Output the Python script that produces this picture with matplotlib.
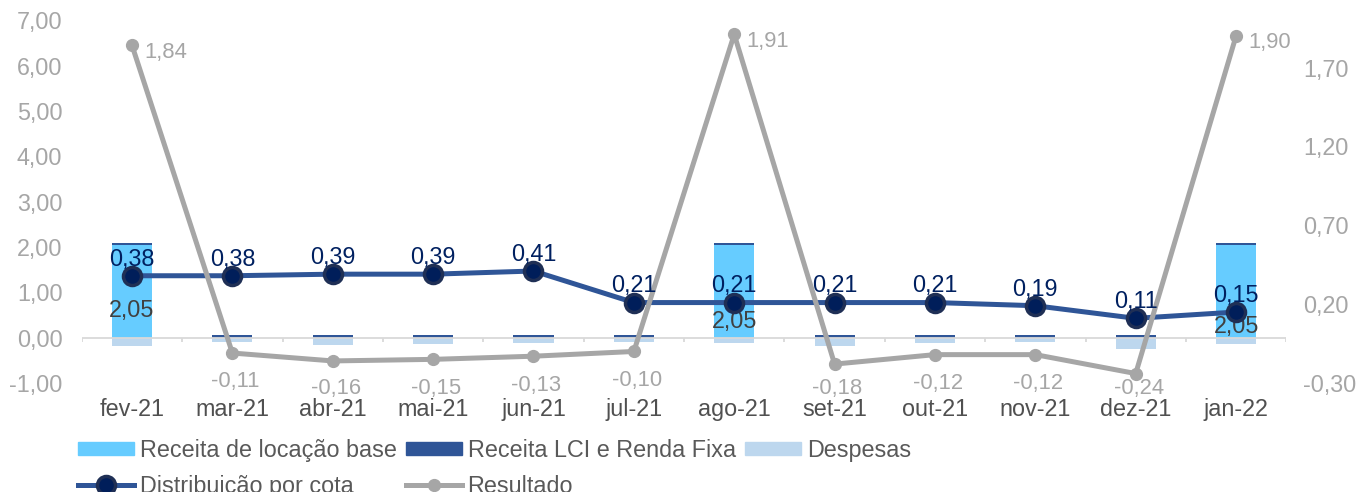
import matplotlib
matplotlib.use("Agg")
import matplotlib.pyplot as plt
from matplotlib.patches import Patch
from matplotlib.lines import Line2D

plt.rcParams["font.family"] = ["Liberation Sans", "DejaVu Sans"]

meses = ["fev-21", "mar-21", "abr-21", "mai-21", "jun-21", "jul-21",
         "ago-21", "set-21", "out-21", "nov-21", "dez-21", "jan-22"]
receita_locacao = [2.05, 0, 0, 0, 0, 0, 2.05, 0, 0, 0, 0, 2.05]
receita_lci = [0.04, 0.05, 0.05, 0.05, 0.05, 0.05, 0.04, 0.05, 0.05, 0.05, 0.05, 0.04]
despesas = [-0.19, -0.09, -0.17, -0.14, -0.12, -0.10, -0.12, -0.18, -0.12, -0.10, -0.24, -0.14]
distribuicao = [0.38, 0.38, 0.39, 0.39, 0.41, 0.21, 0.21, 0.21, 0.21, 0.19, 0.11, 0.15]
resultado = [1.84, -0.11, -0.16, -0.15, -0.13, -0.10, 1.91, -0.18, -0.12, -0.12, -0.24, 1.90]

# where the "2,05" labels sit inside the bars (left axis units)
loc_label_y = {0: 0.6, 6: 0.35, 11: 0.24}

c_loc = "#66CCFF"
c_lci = "#2F5597"
c_desp = "#BDD7EE"
c_dist = "#2F5597"
c_res = "#A6A6A6"
fs = 16.8


def br(v):
    return f"{v:.2f}".replace(".", ",")


fig = plt.figure(figsize=(13.64, 4.92), dpi=100)
ax = fig.add_axes([0.060, 0.2215, 0.883, 0.7375])
x = list(range(len(meses)))

ax.bar(x, receita_locacao, width=0.4, color=c_loc, zorder=2)
ax.bar(x, receita_lci, width=0.4, bottom=receita_locacao, color=c_lci, zorder=2)
ax.bar(x, despesas, width=0.4, color=c_desp, zorder=2)
ax.axhline(0, color="#D9D9D9", lw=1.3, zorder=2.5)
ax.vlines([i - 0.5 for i in range(len(meses) + 1)], -0.09, 0, color="#D9D9D9", lw=1.3, zorder=2.5)

for i, v in enumerate(receita_locacao):
    if v > 0:
        ax.text(i, loc_label_y.get(i, 0.4), br(v), ha="center", va="center",
                fontsize=fs, color="#404040", zorder=5)

ax.set_xlim(-0.5, len(meses) - 0.5)
ax.set_ylim(-1, 7)
ax.set_yticks(range(-1, 8))
ax.set_yticklabels([br(v) for v in range(-1, 8)])
ax.set_xticks(x)
ax.set_xticklabels(meses)
ax.tick_params(axis="x", length=0, pad=11, labelsize=fs, labelcolor="#505050")
ax.tick_params(axis="y", length=0, pad=14, labelsize=fs, labelcolor="#A6A6A6")
for s in ax.spines.values():
    s.set_visible(False)

ax2 = ax.twinx()
ax2.plot(x, distribuicao, color=c_dist, lw=3.6, marker="o", markersize=13,
         markerfacecolor="#001E5A", markeredgecolor="#1F2F55", markeredgewidth=2.5, zorder=3)
ax2.plot(x, resultado, color=c_res, lw=3.6, marker="o", markersize=8.5,
         markerfacecolor=c_res, markeredgecolor=c_res, zorder=4)

for i, v in enumerate(distribuicao):
    ax2.annotate(br(v), (i, v), xytext=(0, 12), textcoords="offset points",
                 ha="center", va="center", fontsize=fs, color="#002060", zorder=6)
for i, v in enumerate(resultado):
    if v > 0:
        ax2.annotate(br(v), (i, v), xytext=(9, -5), textcoords="offset points",
                     ha="left", va="center", fontsize=fs - 1, color="#A6A6A6")
    else:
        # Excel squeezes the labels so they stay above the category names
        ax2.text(i + 0.03, max(v - 0.183, -0.335), br(v), ha="center", va="center",
                 fontsize=fs - 1, color="#A6A6A6", clip_on=False)

ax2.set_ylim(-0.30, 2.00)
rt = [-0.30, 0.20, 0.70, 1.20, 1.70]
ax2.set_yticks(rt)
ax2.set_yticklabels([br(v) for v in rt])
ax2.tick_params(axis="y", length=0, pad=12, labelsize=fs, labelcolor="#A6A6A6")
for s in ax2.spines.values():
    s.set_visible(False)

h_loc = Patch(color=c_loc)
h_lci = Patch(color=c_lci)
h_desp = Patch(color=c_desp)
h_dist = Line2D([], [], color=c_dist, lw=3.6, marker="o", markersize=13,
                markerfacecolor="#001E5A", markeredgecolor="#1F2F55", markeredgewidth=2.5)
h_res = Line2D([], [], color=c_res, lw=3.6, marker="o", markersize=8.5,
               markerfacecolor=c_res, markeredgecolor=c_res)
handles = [h_loc, h_dist, h_lci, h_res, h_desp]
labels = ["Receita de locação base", "Distribuição por cota",
          "Receita LCI e Renda Fixa", "Resultado", "Despesas"]
leg = fig.legend(handles, labels, ncol=3, loc="upper left", bbox_to_anchor=(0.057, 0.108),
                 frameon=False, fontsize=fs, handlelength=2.4, handleheight=0.5,
                 handletextpad=0.25, columnspacing=0.4, labelspacing=0.55,
                 borderpad=0, borderaxespad=0)
for t in leg.get_texts():
    t.set_color("#595959")

fig.savefig("out.png", dpi=100)
